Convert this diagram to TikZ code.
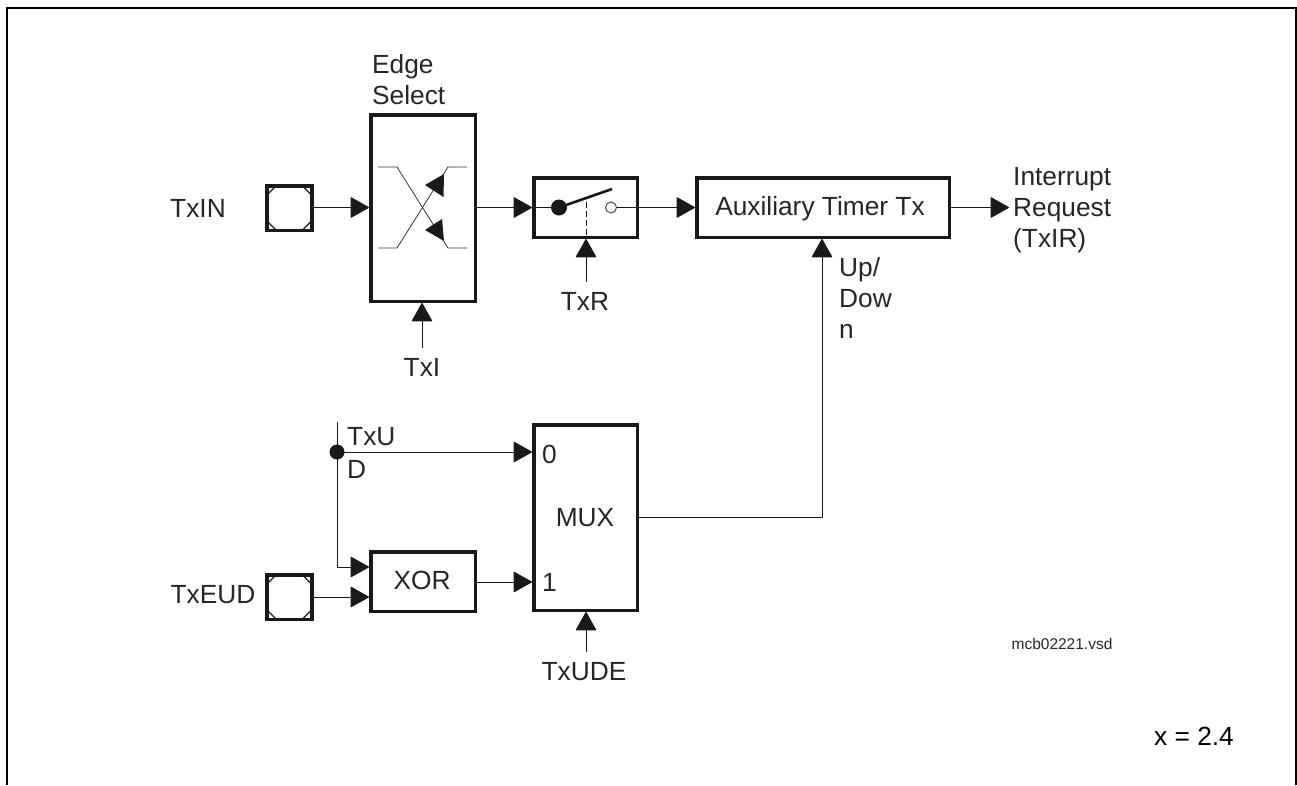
\documentclass[tikz,border=0pt]{standalone}
\usepackage{fontspec}
\setmainfont{Liberation Sans}
\usetikzlibrary{arrows.meta}
\tikzset{
  x=1pt,y=-1pt,
  wire/.style={line width=1pt,black!90},
  arr/.style={wire,-{Triangle[length=19pt,width=21pt,round]}},
  thick box/.style={draw=black!90,line width=3.5pt,inner sep=0pt,anchor=north west},
  lab/.style={font=\fontsize{26.3}{30.8}\selectfont,text=black!85,inner sep=0pt},
  llab/.style={lab,align=left,anchor=base west},
}
\newcommand{\blk}[5]{\node[thick box,minimum width=#4,minimum height=#5] (#1) at (#2,#3) {};}
\begin{document}
\begin{tikzpicture}
\useasboundingbox (0,0) rectangle (1297,785);
\draw[line width=2.4pt,black] (7,785) -- (7,8) -- (1296,8) -- (1296,785);
% pads
\foreach \n/\xx/\yy in {padA/265/184,padB/265/573}{
  \node[thick box,minimum width=45pt,minimum height=44.5pt] (\n) at (\xx,\yy) {};
  \draw[line width=1.1pt,black!90] ([xshift=2pt,yshift=-11pt]\n.north west)--([xshift=11pt,yshift=-2pt]\n.north west);
  \draw[line width=1.1pt,black!90] ([xshift=-2pt,yshift=-11pt]\n.north east)--([xshift=-11pt,yshift=-2pt]\n.north east);
  \draw[line width=1.1pt,black!90] ([xshift=2pt,yshift=11pt]\n.south west)--([xshift=11pt,yshift=2pt]\n.south west);
  \draw[line width=1.1pt,black!90] ([xshift=-2pt,yshift=11pt]\n.south east)--([xshift=-11pt,yshift=2pt]\n.south east);
}
% blocks
\blk{edge}{369}{113}{104.5pt}{186.5pt}
\blk{sw}{532}{176}{103.5pt}{59.5pt}
\blk{timer}{695}{176}{252.5pt}{59.5pt}
\blk{mux}{532}{423}{103.5pt}{185.5pt}
\blk{xor}{369}{550}{104.5pt}{59.5pt}
% labels
\node[lab] (txin) at (198,208) {TxIN};
\node[llab] (es) at (372,104) {Edge\\Select};
\node[lab] (txi) at (422,367) {TxI};
\node[lab] (txr) at (585,301) {TxR};
\node[lab] (tim) at (820,209) {Auxiliary Timer Tx};
\node[llab] (irq) at (1013,247) {Interrupt\\Request\\(TxIR)};
\node[llab] (ud) at (839,338) {Up/\\Dow\\n};
\node[llab] (tu) at (347,445) {TxU};
\node[llab] (td) at (347,478) {D};
\node[llab] (m0) at (542,463) {0};
\node[llab] (m1) at (542,591) {1};
\node[lab] (mx) at (585,518) {MUX};
\node[lab] (xr) at (422,580) {XOR};
\node[lab] (teud) at (213,595) {TxEUD};
\node[lab] (tude) at (584,672) {TxUDE};
\node[lab,font=\fontsize{15.5}{18}\selectfont] (fn) at (1062,644) {mcb02221.vsd};
\node[lab,text=black] (xv) at (1194,736) {x = 2.4};
% coordinates
\coordinate (c1) at (422,348);
\coordinate (c2) at (586,282);
\coordinate (c3) at (586,652);
\coordinate (c4) at (337,422);
\coordinate (j) at (337,452);
\coordinate (hub) at (559,207.5);
\coordinate (tip) at (612,189);
\coordinate (oc) at (611,207.5);
\coordinate (o) at (1009,207.5);
% connectors
\draw[arr] (padA.east|-0,207.5) -- (edge.west|-0,207.5);
\draw[arr] (edge.east|-0,207.5) -- (sw.west|-0,207.5);
\draw[arr] (c1) -- (edge.south-|c1);
\draw[arr] (c2) -- (sw.south-|c2);
\draw[arr] (c3) -- (mux.south-|c3);
\draw[arr] (timer.east|-0,207.5) -- (o);
\draw[arr] (sw.east|-0,207.5) -- (timer.west|-0,207.5);
\draw[wire] (sw.west|-0,207.5) -- (hub);
\draw[wire] (oc) -- (sw.east|-0,207.5);
\draw[arr] (mux.east|-0,517) -| (timer.south-|822,0);
\draw[wire] (c4) -- (j);
\draw[arr] (j) -- (mux.west|-j);
\draw[arr] (j) |- (xor.west|-0,567);
\draw[arr] (padB.east|-0,597) -- (xor.west|-0,597);
\draw[arr] (xor.east|-0,582) -- (mux.west|-0,582);
% switch
\fill[black!90] (hub) circle (8);
\draw[line width=2.6pt,black!90] (hub) -- (tip);
\draw[line width=1pt,black!70,fill=white] (oc) circle (5.5);
\draw[line width=1pt,black!90,dash pattern=on 6pt off 3pt] (586,202) -- (586,238);
\fill[black!90] (j) circle (7.5);
% edge symbol
\draw[line width=.8pt,black!80] (378,167) -- (397,167) -- (448,248) -- (467,248);
\draw[line width=.8pt,black!80] (378,248) -- (397,248) -- (448,167) -- (467,167);
\fill[black!90] (444,174) -- (425,185) -- (443.5,197) -- cycle;
\fill[black!90] (442,219) -- (425,230) -- (444,241) -- cycle;
\end{tikzpicture}
\end{document}
